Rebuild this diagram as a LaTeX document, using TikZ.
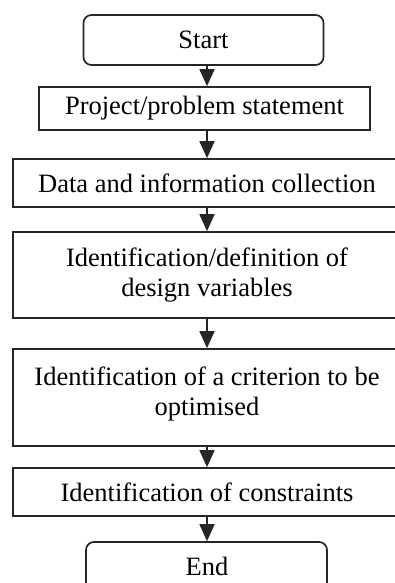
\documentclass[tikz,border=0pt]{standalone}
\usepackage{fontspec}
\setmainfont{Liberation Serif}
\usetikzlibrary{arrows.meta}
\begin{document}
\begin{tikzpicture}[x=1pt,y=-1pt,
  box/.style={draw=black!85, line width=1.7pt, align=center, inner sep=0pt,
    font=\fontsize{26.5}{30}\selectfont},
  term/.style={box, rounded corners=8pt},
  arr/.style={draw=black!85, line width=1.7pt, -{Triangle[length=17pt,width=15pt]}}]
\useasboundingbox (0,0) rectangle (395,583);
\fill[white] (0,0) rectangle (395,583);
\clip (0,0) rectangle (395,583);
\coordinate (ax) at (207,0);
\node[term, minimum width=240pt, minimum height=50pt] (start) at (203.5,40) {Start};
\node[box, minimum width=331pt, minimum height=43pt] (proj) at (204.5,108.5) {Project/problem statement};
\node[box, minimum width=388pt, minimum height=48pt] (data) at (207,183) {Data and information collection};
\node[box, minimum width=388pt, minimum height=86pt] (ident) at (207,275) {Identification/definition of\\design variables};
\node[box, minimum width=388pt, minimum height=97pt, text depth=12.8pt] (crit) at (207,397.5) {Identification of a criterion to be\\optimised};
\node[box, minimum width=388pt, minimum height=48pt] (cons) at (207,492) {Identification of constraints};
\node[term, minimum width=241pt, minimum height=70pt] (end) at (206.5,577) {};
\node[font=\fontsize{26.5}{30}\selectfont, anchor=base, inner sep=0pt] (endt) at (207,575) {End};
\draw[arr] (start.south -| ax) -- (proj.north -| ax);
\draw[arr] (proj.south -| ax) -- (data.north -| ax);
\draw[arr] (data.south -| ax) -- (ident.north -| ax);
\draw[arr] (ident.south -| ax) -- (crit.north -| ax);
\draw[arr] (crit.south -| ax) -- (cons.north -| ax);
\draw[arr] (cons.south -| ax) -- (end.north -| ax);
\end{tikzpicture}
\end{document}
